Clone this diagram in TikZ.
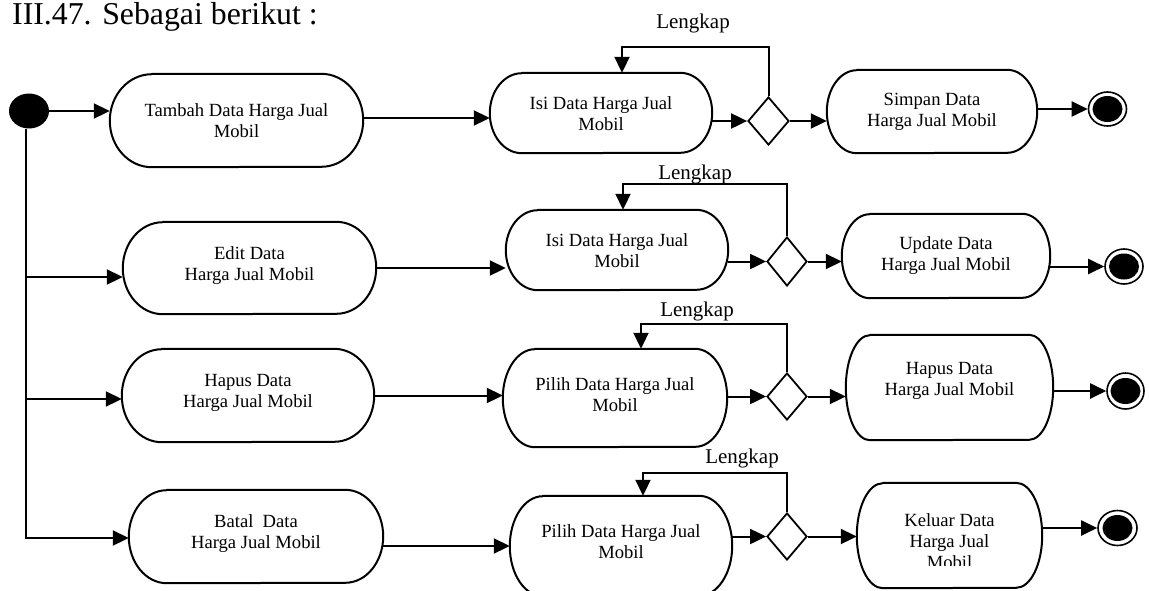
\documentclass[tikz,border=0pt]{standalone}
\usepackage{fontspec}
\setmainfont{Liberation Serif}
\usetikzlibrary{shapes.geometric,arrows.meta}

\tikzset{
  line/.style={line width=2pt},
  arr/.style={line, -{Triangle[length=16pt,width=15pt]}},
  actarea/.style={rectangle, inner sep=0pt, draw=none},
  outline/.style={line width=2pt, line join=round},
  acttext/.style={font=\fontsize{18.6}{21}\selectfont, align=center, inner sep=0pt},
  decision/.style={diamond, draw, line width=1.8pt, inner sep=0pt, minimum width=41pt, minimum height=48pt},
  guard/.style={font=\fontsize{21}{24}\selectfont, inner sep=0pt},
  initial/.style={ellipse, fill=black, inner sep=0pt, minimum width=40pt, minimum height=35pt},
  final/.style={ellipse, draw, line width=1.6pt, inner sep=0pt, minimum width=38pt, minimum height=34pt},
  finaldot/.style={ellipse, fill=black, inner sep=0pt, minimum width=30pt, minimum height=26pt},
  heading/.style={font=\fontsize{31.8}{36}\selectfont, inner sep=0pt, anchor=base west},
}

% activity: name, cx, cy, width, height, end radius, text shift, text
\newcommand{\actbox}[8]{%
  \node[actarea, minimum width=#4pt, minimum height=#5pt] (#1) at (#2,#3) {};
  \draw[outline] ([xshift=#6pt]#1.north west) -- ([xshift=-#6pt]#1.north east)
    arc[start angle=90, end angle=-90, x radius=#6pt, y radius=#5pt/2]
    -- ([xshift=#6pt]#1.south west)
    arc[start angle=270, end angle=90, x radius=#6pt, y radius=#5pt/2] -- cycle;
  \node[acttext] (#1t) at ([yshift=#7pt]#1.center) {#8};
}

\begin{document}
\begin{tikzpicture}[x=1pt,y=-1pt]
\useasboundingbox (0,0) rectangle (1149,590);

\node[heading] (title) at (12,24) {III.47. Sebagai berikut :};

% initial state and branching trunk
\node[initial] (S) at (29,111) {};
\coordinate (T) at (26,538);
\coordinate (b2) at (26,277);
\coordinate (b3) at (26,399);

% column 1
\actbox{n11}{236.5}{120.5}{253}{93}{42}{0}{Tambah Data Harga Jual\\Mobil}
\actbox{n21}{249.5}{268}{253}{92}{40}{2.5}{Edit Data\\Harga Jual Mobil}
\actbox{n31}{248}{395.5}{252}{93}{40}{3}{Hapus Data\\Harga Jual Mobil}
\actbox{n41}{256}{536.5}{254}{93}{38}{3}{Batal\ \ Data\\Harga Jual Mobil}

% column 2
\actbox{n12}{601}{113}{222}{80}{32}{-1}{Isi Data Harga Jual\\Mobil}
\actbox{n22}{617}{250}{222}{80}{32}{-1}{Isi Data Harga Jual\\Mobil}
\actbox{n32}{615}{398}{224}{98}{32}{3}{Pilih Data Harga Jual\\Mobil}
\actbox{n42}{621}{546}{222}{100}{33}{4.5}{Pilih Data Harga Jual\\Mobil}

% decisions
\node[decision] (d1) at (768.5,121) {};
\node[decision, minimum width=40pt, minimum height=49pt] (d2) at (787,261.5) {};
\node[decision, minimum width=40pt, minimum height=47pt] (d3) at (787,396.5) {};
\node[decision, minimum width=40pt, minimum height=47pt] (d4) at (787,536.5) {};

% column 3
\actbox{n13}{932}{111.5}{210}{83}{30}{0}{Simpan Data\\Harga Jual Mobil}
\actbox{n23}{946}{256}{208}{84}{28}{0}{Update Data\\Harga Jual Mobil}
\actbox{n33}{949.5}{387.5}{207}{105}{24}{7}{Hapus Data\\Harga Jual Mobil}
\node[actarea, minimum width=185pt, minimum height=105pt] (n43) at (949.5,535.5) {};
\draw[outline] ([xshift=26pt]n43.north west) -- ([xshift=-26pt]n43.north east)
  arc[start angle=90, end angle=-90, x radius=26pt, y radius=52.5pt]
  -- ([xshift=26pt]n43.south west)
  arc[start angle=270, end angle=90, x radius=26pt, y radius=52.5pt] -- cycle;
\begin{scope}
  % the third line is cut off by the text area of the box
  \clip (860,490) rectangle (1040,565);
  \node[acttext] (n43t) at ([yshift=-5.5pt]n43.center) {Keluar Data\\Harga Jual\\Mobil};
\end{scope}

% final states
\node[final] (e1) at (1107.5,109) {};
\node[finaldot] (e1d) at (e1) {};
\node[final, minimum width=38pt, minimum height=35pt] (e2) at (1124,266.5) {};
\node[finaldot] (e2d) at (e2) {};
\node[final, minimum width=37pt, minimum height=36pt] (e3) at (1125.5,391) {};
\node[finaldot] (e3d) at (e3) {};
\node[final, minimum width=39pt, minimum height=35pt] (e4) at (1117.5,528) {};
\node[finaldot] (e4d) at (e4) {};

% flows from the initial state
\draw[arr] (S.east) -- (S.east -| n11.west);
\draw[arr] (S.south -| T) -- (T) -- (T -| n41.west);
\draw[arr] (b2) -- (b2 -| n21.west);
\draw[arr] (b3) -- (b3 -| n31.west);

% row 1
\draw[arr] ([yshift=2.5pt]n11.east) -- ([yshift=2.5pt]n11.east -| n12.west);
\draw[arr] (n12.east |- d1) -- (d1.west);
\draw[arr] (d1.east) -- (d1.east -| n13.west);
\draw[arr] (n13.east |- e1) -- (e1.west);
\coordinate (L1) at (622,47);
\draw[arr] (d1.north) |- (L1) -- (L1 |- n12.north);
\node[guard] (g1) at (693,23) {Lengkap};

% row 2
\draw[arr] (n21.east) -- (n21.east -| n22.west);
\draw[arr] (n22.east |- d2) -- (d2.west);
\draw[arr] (d2.east) -- (d2.east -| n23.west);
\draw[arr] (n23.east |- e2) -- (e2.west);
\coordinate (L2) at (623,184);
\draw[arr] (d2.north) |- (L2) -- (L2 |- n22.north);
\node[guard] (g2) at (695,174) {Lengkap};

% row 3
\draw[arr] (n31.east) -- (n31.east -| n32.west);
\draw[arr] (n32.east |- d3) -- (d3.west);
\draw[arr] (d3.east) -- (d3.east -| n33.west);
\draw[arr] (n33.east |- e3) -- (e3.west);
\coordinate (L3) at (641,324);
\draw[arr] (d3.north) |- (L3) -- (L3 |- n32.north);
\node[guard] (g3) at (697,311) {Lengkap};

% row 4
\draw[arr] (n41.east |- n42) -- (n42.west);
\draw[arr] (n42.east |- d4) -- (d4.west);
\draw[arr] (d4.east) -- (d4.east -| n43.west);
\draw[arr] (n43.east |- e4) -- (e4.west);
\coordinate (L4) at (643,473);
\draw[arr] (d4.north) |- (L4) -- (L4 |- n42.north);
\node[guard] (g4) at (742,458) {Lengkap};
\end{tikzpicture}
\end{document}
